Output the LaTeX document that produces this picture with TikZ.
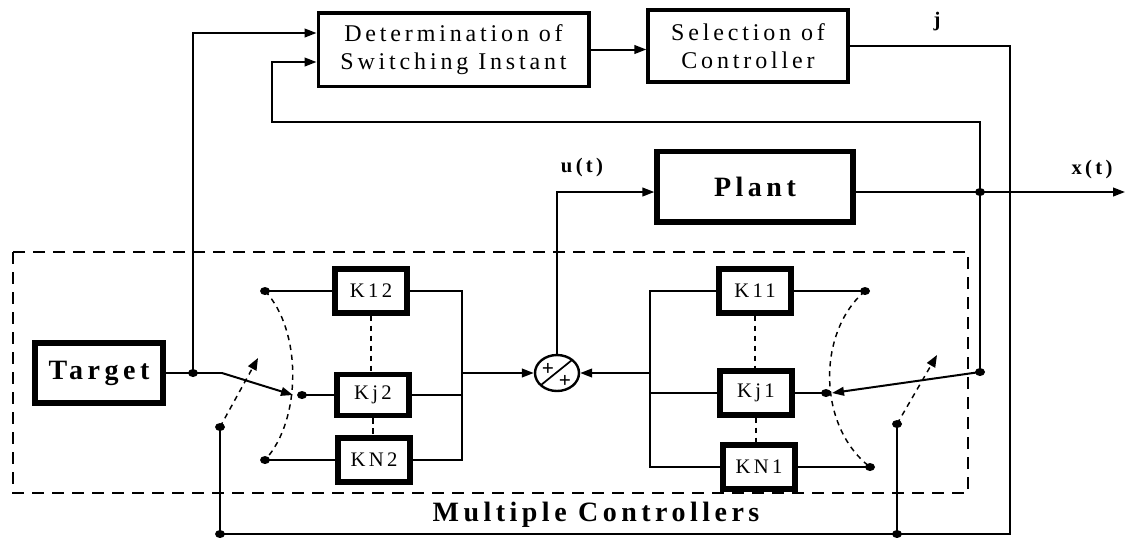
\documentclass[tikz,border=0pt]{standalone}
\usepackage{fontspec}
\setmainfont{Liberation Serif}[LetterSpace=16]
\usetikzlibrary{arrows.meta,shapes.geometric,calc}
\begin{document}
\begin{tikzpicture}[x=0.75pt,y=-0.75pt,
  wire/.style={line width=1.5pt},
  arr/.style={wire,-{Triangle[length=9pt,width=6.5pt]}},
  blk/.style={draw,line width=2.5pt,inner sep=0pt,align=center,font=\fontsize{18}{21}\selectfont},
  heavy/.style={draw,line width=4pt,inner sep=0pt},
  kbox/.style={heavy,minimum width=54pt,minimum height=33pt,font=\fontsize{15.5}{15.5}\selectfont},
  sdash/.style={line width=1.1pt,dash pattern=on 4pt off 3.5pt},
  sdarr/.style={sdash,-{Triangle[length=9pt,width=7pt]}},
  mbox/.style={line width=1pt,dash pattern=on 9pt off 6pt},
  lbl/.style={font=\bfseries\fontsize{15.5}{15.5}\selectfont},
  big/.style={font=\bfseries\fontsize{21}{21}\selectfont}]
\useasboundingbox (0,0) rectangle (1126,537);

% dashed frame
\draw[mbox] (13,252) rectangle (968,493);
\node[big] (mc) at (596,515) {Multiple Controllers};

% top blocks
\node[blk,minimum width=203pt,minimum height=55pt] (det) at (453.5,49.5) {Determination of\\Switching Instant};
\node[blk,minimum width=150pt,minimum height=54pt] (sel) at (748,46) {Selection of\\Controller};
\draw[arr] (det.east) -- (det.east -| sel.west);
\node[lbl] (jl) at (937,22) {j};

% plant
\node[heavy,big,minimum width=147pt,minimum height=53pt] (plant) at (755,186.5) {Plant};
\node[lbl] (ul) at (582,168) {u(t)};
\node[lbl] (xl) at (1092,170) {x(t)};

% target
\node[heavy,big,minimum width=96pt,minimum height=45pt] (target) at (99,373) {Target};

% summing junction
\node[draw,ellipse,line width=1.8pt,minimum width=33pt,minimum height=27pt,inner sep=0pt] (sum) at (557,373) {};
\draw[line width=1.3pt] ($(sum)+(-16,12)$) -- ($(sum)+(15,-13)$);
\node[font=\bfseries\fontsize{16}{16}\selectfont] (p1) at ($(sum)+(-9,-4)$) {+};
\node[font=\bfseries\fontsize{16}{16}\selectfont] (p2) at ($(sum)+(8,8)$) {+};

% controllers
\node[kbox] (K12) at (371,291) {K12};
\node[kbox,minimum height=31pt] (Kj2) at (373,395) {Kj2};
\node[kbox] (KN2) at (374,460) {KN2};
\node[kbox] (K11) at (755,291) {K11};
\node[kbox] (Kj1) at (756,393) {Kj1};
\node[kbox] (KN1) at (759,467) {KN1};

% coordinates
\coordinate (jt) at (193,373);
\coordinate (bend2) at (222,373);
\coordinate (tip2) at (293,395);
\coordinate (c2t) at (265,291);
\coordinate (c2m) at (302,395);
\coordinate (c2b) at (265,460);
\coordinate (s2p) at (220,427);
\coordinate (s2t) at (258,358);
\coordinate (b2) at (220,534);
\coordinate (busL) at (462,373);
\coordinate (busR) at (650,373);
\coordinate (c1t) at (865,291);
\coordinate (c1m) at (826,393);
\coordinate (c1b) at (870,467);
\coordinate (s1p) at (897,424);
\coordinate (s1t) at (937,355);
\coordinate (b1) at (897,534);
\coordinate (jr) at (980,372);
\coordinate (tip1) at (832,393);
\coordinate (jp) at (980,192);
\coordinate (uc) at (557,192);
\coordinate (xo) at (1125,192);
\coordinate (fbL) at (272,122);
\coordinate (rc) at (1010,534);
\coordinate (din1) at ($(det.west)+(0,-16.5)$);
\coordinate (din2) at ($(det.west)+(0,12.5)$);

% target path and left switch
\draw[wire] (target.east) -- (jt) -- (bend2);
\draw[arr] (bend2) -- (tip2);
\draw[arr] (jt) -- (jt |- din1) -- (din1);
\draw[sdash] (c2t) .. controls (302,330) and (302,420) .. (c2b);
\draw[sdarr] (s2p) -- (s2t);
\draw[wire] (c2t) -- (K12.west);
\draw[wire] (c2m) -- (Kj2.west);
\draw[wire] (c2b) -- (KN2.west);
\draw[sdash] (K12.south) -- (K12.south |- Kj2.north);
\draw[sdash] (Kj2.south) -- (Kj2.south |- KN2.north);
\draw[wire] (K12.east) -- (K12.east -| busL) -- (KN2.east -| busL) -- (KN2.east);
\draw[wire] (Kj2.east) -- (Kj2.east -| busL);
\draw[arr] (busL) -- (sum.west);

% right block
\draw[wire] (K11.west) -- (K11.west -| busR) -- (KN1.west -| busR) -- (KN1.west);
\draw[wire] (Kj1.west) -- (Kj1.west -| busR);
\draw[arr] (busR) -- (sum.east);
\draw[sdash] (K11.south) -- (K11.south |- Kj1.north);
\draw[sdash] (Kj1.south) -- (Kj1.south |- KN1.north);
\draw[wire] (K11.east) -- (c1t);
\draw[wire] (Kj1.east) -- (c1m);
\draw[wire] (KN1.east) -- (c1b);
\draw[sdash] (c1t) .. controls (817,332) and (817,426) .. (c1b);
\draw[arr] (jr) -- (tip1);
\draw[sdarr] (s1p) -- (s1t);

% plant loop
\draw[arr] (sum.north) -- (uc) -- (uc -| plant.west);
\draw[arr] (uc -| plant.east) -- (xo);
\draw[arr] (jr) -- (jr |- fbL) -- (fbL) -- (fbL |- din2) -- (din2);

% selection output and bottom bus
\draw[wire] (sel.east) -| (rc) -- (b2) -- (s2p);
\draw[wire] (b1) -- (s1p);

% dots
\foreach \p in {jt,c2t,c2m,c2b,s2p,b2,c1t,c1m,c1b,s1p,b1,jr,jp}
  \fill (\p) circle[x radius=5,y radius=4];
\end{tikzpicture}
\end{document}
